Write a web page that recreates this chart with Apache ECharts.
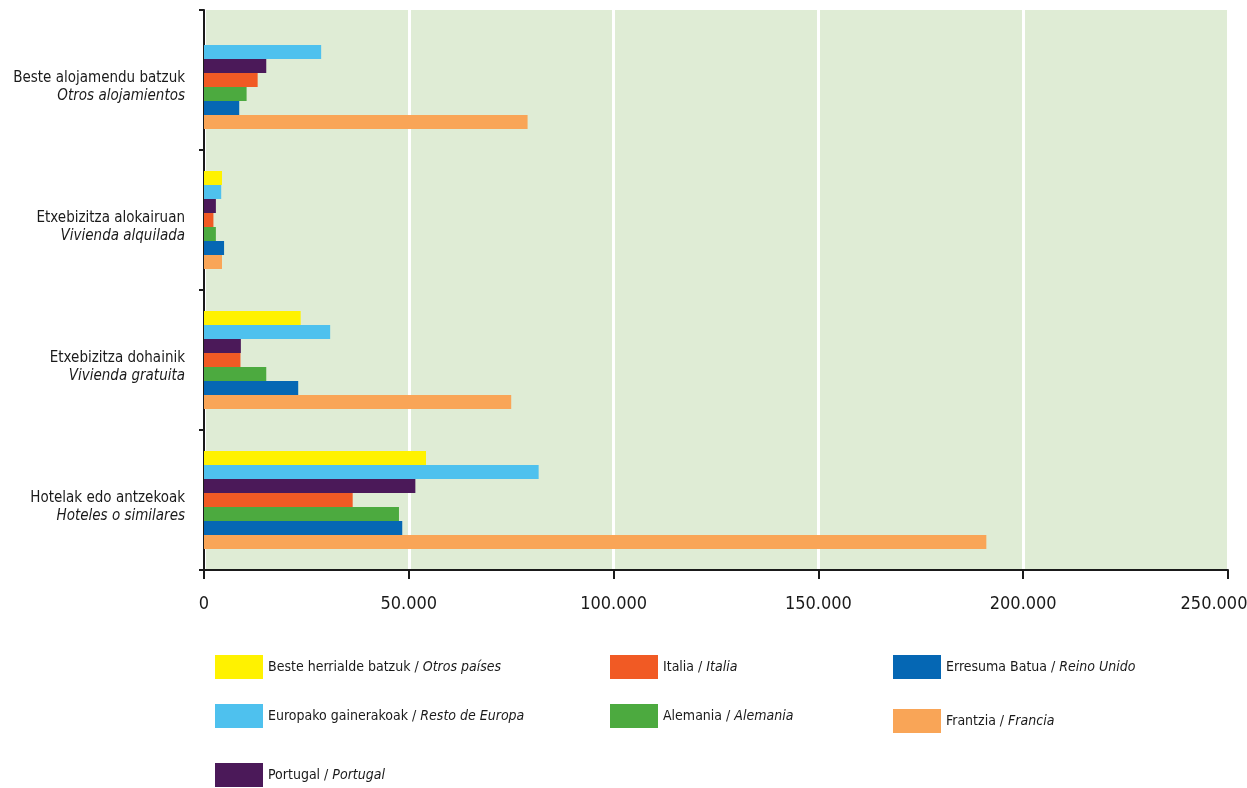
<!DOCTYPE html>
<html>
<head>
<meta charset="utf-8">
<script src="https://cdn.jsdelivr.net/npm/echarts@6/dist/echarts.min.js"></script>
<style>
html,body{margin:0;padding:0;background:#fff;overflow:hidden;}
#c{width:1247px;height:788px;}
</style>
</head>
<body>
<div id="c"></div>
<script>
// Categories, bottom to top
const categoriesEu = ['Hotelak edo antzekoak', 'Etxebizitza dohainik', 'Etxebizitza alokairuan', 'Beste alojamendu batzuk'];
const categoriesEs = ['Hoteles o similares', 'Vivienda gratuita', 'Vivienda alquilada', 'Otros alojamientos'];

// Series names (Basque / Spanish), top-of-group first
const seriesEu = ['Beste herrialde batzuk', 'Europako gainerakoak', 'Portugal', 'Italia', 'Alemania', 'Erresuma Batua', 'Frantzia'];
const seriesEs = ['Otros países', 'Resto de Europa', 'Portugal', 'Italia', 'Alemania', 'Reino Unido', 'Francia'];

// Values per series, in category order (bottom to top)
const besteHerri    = [54200, 23600, 4400, 0];
const europako      = [81700, 30800, 4200, 28600];
const portugal      = [51600, 9000, 2900, 15200];
const italia        = [36300, 8900, 2300, 13100];
const alemania      = [47600, 15200, 2900, 10400];
const erresumaBatua = [48400, 23000, 4900, 8600];
const frantzia      = [191000, 75000, 4400, 79000];

const xTicks = [0, 50000, 100000, 150000, 200000, 250000];

const seriesValues = [besteHerri, europako, portugal, italia, alemania, erresumaBatua, frantzia];
const colors = ['#fff200', '#4ec1ee', '#4b1959', '#f15a24', '#4caa3f', '#0567b4', '#f9a557'];

const FONT = '"Liberation Sans Narrow", "DejaVu Sans Condensed", "Liberation Sans", sans-serif';

const chart = echarts.init(document.getElementById('c'));

function fmt(v) {
  return String(v).replace(/\B(?=(\d{3})+(?!\d))/g, '.');
}

// Legend placements: [seriesIndex, left, top]
const legendPos = [
  [0, 215, 655], [3, 610, 655], [5, 893, 655],
  [1, 215, 704], [4, 610, 704], [6, 893, 709],
  [2, 215, 763]
];

const legends = legendPos.map(function (p) {
  const i = p[0];
  return {
    data: [seriesEu[i]],
    left: p[1],
    top: p[2],
    padding: 0,
    orient: 'horizontal',
    icon: 'rect',
    itemWidth: 48,
    itemHeight: 24,
    itemGap: 0,
    selectedMode: false,
    formatter: function (name) {
      const k = seriesEu.indexOf(name);
      return '{n|' + name + ' / }{i|' + seriesEs[k] + '}';
    },
    textStyle: {
      fontFamily: FONT,
      fontSize: 14,
      color: '#1a1a1a',
      rich: {
        n: { fontFamily: FONT, fontSize: 14, color: '#1a1a1a' },
        i: { fontFamily: FONT, fontSize: 14, color: '#1a1a1a', fontStyle: 'italic' }
      }
    }
  };
});

const lastTick = xTicks[xTicks.length - 1];

const option = {
  backgroundColor: '#ffffff',
  animation: false,
  color: colors,
  legend: legends,
  grid: {
    left: 204,
    right: 19,
    top: 10,
    bottom: 218,
    show: true,
    backgroundColor: '#dfecd5',
    borderWidth: 0,
    containLabel: false,
    outerBoundsMode: 'none'
  },
  xAxis: {
    type: 'value',
    min: xTicks[0],
    max: lastTick,
    interval: 50000,
    axisLine: { show: true, lineStyle: { color: '#1a1a1a', width: 2 } },
    axisTick: { show: true, length: 9, lineStyle: { color: '#1a1a1a', width: 2 } },
    axisLabel: {
      margin: 25,
      fontFamily: FONT,
      fontSize: 18,
      color: '#1a1a1a',
      formatter: function (v) {
        return v === lastTick ? '{r|' + fmt(v) + '}' : fmt(v);
      },
      rich: {
        r: { fontFamily: FONT, fontSize: 18, color: '#1a1a1a', padding: [0, 28, 0, 0] }
      }
    },
    splitLine: { show: true, lineStyle: { color: '#ffffff', width: 3 } }
  },
  yAxis: {
    type: 'category',
    data: categoriesEu,
    axisLine: { show: true, lineStyle: { color: '#1a1a1a', width: 2 } },
    axisTick: { show: true, length: 5, inside: false, lineStyle: { color: '#1a1a1a', width: 2 } },
    axisLabel: {
      margin: 19,
      align: 'right',
      lineHeight: 18,
      padding: [15, 0, 0, 0],
      formatter: function (v, idx) {
        return '{n|' + v + '}\n{i|' + categoriesEs[idx] + '}';
      },
      rich: {
        n: { fontFamily: FONT, fontSize: 15, color: '#1a1a1a', align: 'right', lineHeight: 18 },
        i: { fontFamily: FONT, fontSize: 15, color: '#1a1a1a', fontStyle: 'italic', align: 'right', lineHeight: 18 }
      }
    }
  },
  series: seriesValues.map(function (vals, i) {
    return {
      name: seriesEu[i],
      type: 'bar',
      data: vals,
      barWidth: 14,
      barGap: '0%',
      itemStyle: { color: colors[i] }
    };
  })
};

chart.setOption(option);
</script>
</body>
</html>
